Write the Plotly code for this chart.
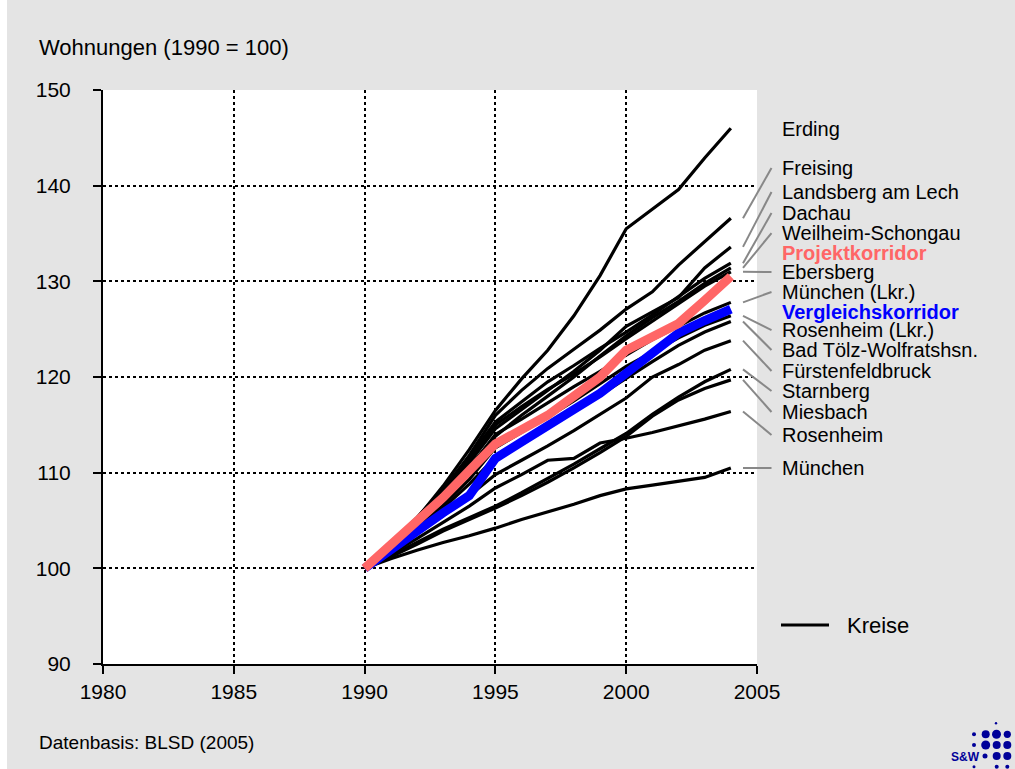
import plotly.graph_objects as go

# Wohnungsbestand je Kreis, Index 1990 = 100
years = list(range(1990, 2005))

kreise = {
    "Erding":             [100, 102.5, 105.2, 108.6, 112.4, 116.5, 119.8, 122.8, 126.4, 130.6, 135.5, 137.5, 139.6, 142.9, 146.0],
    "Freising":           [100, 102.4, 105.0, 108.2, 111.8, 116.0, 118.6, 120.9, 122.9, 124.9, 127.1, 128.9, 131.7, 134.1, 136.6],
    "Landsberg am Lech":  [100, 102.5, 104.9, 107.9, 111.0, 114.6, 116.6, 118.6, 120.6, 122.8, 125.3, 126.8, 128.3, 131.4, 133.6],
    "Dachau":             [100, 102.6, 105.3, 108.3, 111.6, 115.3, 117.4, 119.5, 121.2, 123.0, 124.7, 126.5, 128.4, 130.3, 131.9],
    "Weilheim-Schongau":  [100, 102.3, 104.7, 107.6, 110.6, 113.8, 116.0, 118.0, 120.0, 122.2, 124.3, 126.2, 127.9, 129.8, 131.4],
    "Ebersberg":          [100, 102.4, 105.0, 108.0, 111.3, 115.0, 116.9, 118.7, 120.3, 122.1, 124.0, 125.8, 127.6, 129.5, 131.0],
    "München (Lkr.)":     [100, 102.2, 104.6, 107.3, 110.4, 114.0, 115.6, 117.3, 119.0, 120.6, 122.3, 123.9, 125.3, 126.7, 127.8],
    "Rosenheim (Lkr.)":   [100, 102.0, 104.2, 106.6, 109.3, 112.6, 114.2, 115.8, 117.5, 119.3, 121.1, 122.6, 124.1, 125.4, 126.4],
    "Bad Tölz-Wolfratshsn.": [100, 101.9, 104.0, 106.3, 108.8, 111.6, 113.2, 114.8, 116.4, 118.1, 119.9, 121.6, 123.3, 124.7, 125.8],
    "Fürstenfeldbruck":   [100, 101.8, 103.6, 105.5, 107.6, 109.8, 111.3, 112.8, 114.4, 116.1, 117.8, 120.0, 121.3, 122.8, 123.8],
    "Starnberg":          [100, 101.3, 102.7, 104.1, 105.3, 106.5, 107.9, 109.4, 110.9, 112.5, 114.1, 116.1, 117.9, 119.5, 120.8],
    "Miesbach":           [100, 101.2, 102.5, 103.9, 105.1, 106.3, 107.6, 109.0, 110.5, 112.1, 113.8, 115.9, 117.6, 118.8, 119.7],
    "Rosenheim":          [100, 101.5, 103.1, 104.8, 106.5, 108.4, 109.8, 111.3, 111.5, 113.1, 113.6, 114.2, 114.9, 115.6, 116.4],
    "München":            [100, 101.0, 101.9, 102.7, 103.4, 104.2, 105.1, 105.9, 106.7, 107.6, 108.3, 108.7, 109.1, 109.5, 110.5],
}

projektkorridor = [100, 102.4, 104.8, 107.4, 110.2, 113.0, 114.5, 116.0, 118.0, 120.0, 122.8, 124.2, 125.6, 128.0, 130.5]
vergleichskorridor = [100, 102.0, 104.0, 105.8, 107.6, 111.5, 113.2, 114.8, 116.6, 118.3, 120.4, 122.4, 124.6, 125.9, 127.1]

# Beschriftung rechts: Reihenfolge und vertikale Position (in Indexpunkten)
label_order = [
    "Erding", "Freising", "Landsberg am Lech", "Dachau", "Weilheim-Schongau",
    "Projektkorridor", "Ebersberg", "München (Lkr.)", "Vergleichskorridor",
    "Rosenheim (Lkr.)", "Bad Tölz-Wolfratshsn.", "Fürstenfeldbruck",
    "Starnberg", "Miesbach", "Rosenheim", "München",
]
label_y = [145.9, 141.85, 139.34, 137.14, 135.05, 132.96, 130.98, 128.89, 126.8,
           124.91, 122.82, 120.63, 118.54, 116.34, 113.94, 110.49]

x_ticks = [1980, 1985, 1990, 1995, 2000, 2005]
y_ticks = [90, 100, 110, 120, 130, 140, 150]

FONT = "Liberation Sans, Arial, sans-serif"
BG = "#e4e4e4"
PINK = "#ff6666"
BLUE = "#0000ff"

fig = go.Figure()

for name, vals in kreise.items():
    fig.add_trace(go.Scatter(
        x=years, y=vals, mode="lines", name=name, showlegend=False,
        line=dict(color="black", width=3.2),
    ))

fig.add_trace(go.Scatter(x=years, y=vergleichskorridor, mode="lines",
                         name="Vergleichskorridor", showlegend=False,
                         line=dict(color=BLUE, width=9)))
fig.add_trace(go.Scatter(x=years, y=projektkorridor, mode="lines",
                         name="Projektkorridor", showlegend=False,
                         line=dict(color=PINK, width=9)))


def px2paper(px, py):
    """Canvas pixel -> paper coordinates of the plot area (103..757, 90..664)."""
    return (px - 103) / 654, (664 - py) / 574


x_lead0, _ = px2paper(743, 0)
x_lead1, _ = px2paper(771.5, 0)
x_text, _ = px2paper(781, 0)

annotations = []
shapes = []
for name, ly in zip(label_order, label_y):
    if name == "Projektkorridor":
        txt, col = "<b>Projektkorridor</b>", PINK
    elif name == "Vergleichskorridor":
        txt, col = "<b>Vergleichskorridor</b>", BLUE
    else:
        txt, col = name, "black"
    annotations.append(dict(
        x=x_text, y=ly, xref="paper", yref="y", text=txt, showarrow=False,
        xanchor="left", yanchor="middle", borderpad=0,
        font=dict(family=FONT, size=20, color=col),
    ))
    if name in kreise and name != "Erding":
        end_val = kreise[name][-1]
        shapes.append(dict(
            type="line", xref="paper", yref="y",
            x0=x_lead0, y0=end_val, x1=x_lead1, y1=ly,
            line=dict(color="#888888", width=2),
        ))

# Legendeneintrag "Kreise"
lx0, ly0 = px2paper(781, 625)
lx1, _ = px2paper(829, 625)
shapes.append(dict(type="line", xref="paper", yref="paper", x0=lx0, y0=ly0, x1=lx1, y1=ly0,
                   line=dict(color="black", width=3.2)))
kx, _ = px2paper(845, 0)
annotations.append(dict(x=kx, y=ly0, xref="paper", yref="paper", text="Kreise",
                        showarrow=False, xanchor="left", yanchor="middle",
                        font=dict(family=FONT, size=22, color="black")))

tx, ty = px2paper(37, 48)
dx, dy = px2paper(37, 742)
sx, sy = px2paper(966, 757)
annotations += [
    dict(x=tx, y=ty, xref="paper", yref="paper", text="Wohnungen (1990 = 100)",
         showarrow=False, xanchor="left", yanchor="middle",
         font=dict(family=FONT, size=22, color="black")),
    dict(x=dx, y=dy, xref="paper", yref="paper", text="Datenbasis: BLSD (2005)",
         showarrow=False, xanchor="left", yanchor="middle",
         font=dict(family=FONT, size=19, color="black")),
    dict(x=sx, y=sy, xref="paper", yref="paper", text="<b>S&W</b>",
         showarrow=False, xanchor="center", yanchor="middle",
         font=dict(family=FONT, size=12, color="#000099")),
]

# small dot logo
dots = [
    (996.0, 723.3, 1.2),
    (974.0, 734.3, 2.0), (985.7, 734.3, 4.0), (996.5, 734.3, 4.5), (1007.3, 734.3, 3.6),
    (974.0, 745.0, 2.0), (985.7, 745.0, 4.5), (996.7, 745.0, 4.0), (1007.3, 745.0, 4.0),
    (985.0, 756.0, 2.5), (996.7, 756.0, 4.0), (1007.3, 756.0, 4.0),
    (974.0, 766.7, 1.5), (996.7, 766.7, 2.0), (1007.3, 766.7, 2.0),
]
for cx, cy, r in dots:
    x0, y0 = px2paper(cx - r, cy + r)
    x1, y1 = px2paper(cx + r, cy - r)
    shapes.append(dict(type="circle", xref="paper", yref="paper", x0=x0, y0=y0, x1=x1, y1=y1,
                       fillcolor="#000099", line=dict(width=0), layer="above"))

# white strip at the left edge of the canvas
wx, _ = px2paper(7, 0)
shapes.append(dict(type="rect", xref="paper", yref="paper", x0=-0.2, x1=wx,
                   y0=-0.2, y1=1.2, fillcolor="white", line=dict(width=0), layer="below"))

fig.update_layout(
    width=1015, height=769,
    margin=dict(l=103, r=258, t=90, b=105),
    paper_bgcolor=BG, plot_bgcolor="white",
    font=dict(family=FONT, size=21, color="black"),
    annotations=annotations, shapes=shapes,
    showlegend=False,
)
fig.update_xaxes(
    range=[1980, 2005], tickvals=x_ticks, ticktext=[str(v) for v in x_ticks],
    showline=True, linecolor="black", linewidth=2,
    ticks="outside", ticklen=8, tickwidth=2, tickcolor="black",
    showgrid=True, gridcolor="black", gridwidth=2, griddash="3px,3px",
    zeroline=False, tickfont=dict(size=21),
)
fig.update_yaxes(
    range=[90, 150], tickvals=y_ticks,
    showline=True, linecolor="black", linewidth=2,
    ticks="outside", ticklen=8, tickwidth=2, tickcolor="black",
    showgrid=True, gridcolor="black", gridwidth=2, griddash="3px,3px",
    zeroline=False, tickfont=dict(size=21), ticklabelstandoff=18,
)

fig.write_html("out.html")
